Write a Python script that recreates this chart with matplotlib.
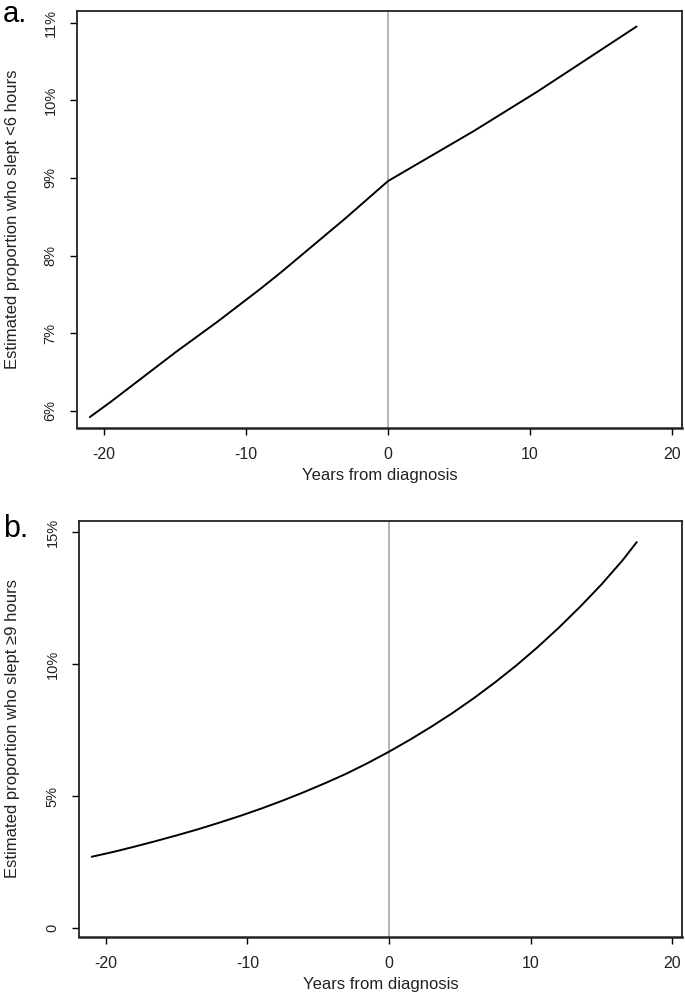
import matplotlib
matplotlib.use("Agg")
import matplotlib.pyplot as plt

plt.rcParams['font.family'] = ['Liberation Sans', 'DejaVu Sans']

# years from diagnosis (shared by both panels)
years = [-21, -19.5, -18, -16.5, -15, -13.5, -12, -10.5, -9, -7.5, -6, -4.5, -3, -1.5,
         0, 1.5, 3, 4.5, 6, 7.5, 9, 10.5, 12, 13.5, 15, 16.5, 17.5]

# panel a: estimated % who slept <6 hours
short_sleep = [5.92, 6.12, 6.33, 6.54, 6.75, 6.95, 7.15, 7.36, 7.57, 7.79, 8.02, 8.25, 8.48, 8.72,
               8.96, 9.12, 9.28, 9.44, 9.60, 9.77, 9.94, 10.11, 10.29, 10.47, 10.65, 10.83, 10.95]

# panel b: estimated % who slept >=9 hours
long_sleep = [2.70, 2.88, 3.08, 3.29, 3.51, 3.74, 3.99, 4.25, 4.53, 4.83, 5.15, 5.49, 5.85, 6.25,
              6.68, 7.14, 7.63, 8.15, 8.71, 9.31, 9.95, 10.64, 11.38, 12.17, 13.01, 13.93, 14.62]

x_ticks = [-20, -10, 0, 10, 20]
a_ticks = [6, 7, 8, 9, 10, 11]
a_labels = ['6%', '7%', '8%', '9%', '10%', '11%']
b_ticks = [0, 5, 10, 15]
b_labels = ['0', '5%', '10%', '15%']

W, H = 685, 997
fig = plt.figure(figsize=(W / 100, H / 100), dpi=100)


def make_axes(left, top, right, bottom):
    return fig.add_axes([left / W, 1 - bottom / H, (right - left) / W, (bottom - top) / H])


def style(ax, left, right, y, yticks, ylabels, ylim, ylabel):
    ax.plot(years, y, color='black', lw=1.4, solid_joinstyle='round', solid_capstyle='round')
    ax.axvline(0, color='#b4b4b4', lw=1.4, zorder=0)
    ax.set_xlim(-21.9, 20.7)
    ax.set_ylim(*ylim)
    ax.set_xticks(x_ticks)
    ax.set_xticklabels([str(t) for t in x_ticks])
    ax.set_yticks(yticks)
    ax.set_yticklabels(ylabels, rotation=90, va='center')
    ax.tick_params(axis='both', direction='out', length=5, width=1,
                   colors='black', labelcolor='#222222')
    ax.tick_params(axis='x', pad=9, labelsize=11.5)
    ax.tick_params(axis='y', pad=9, labelsize=10.5)
    for s in ax.spines.values():
        s.set_linewidth(1.3)
        s.set_color('#222222')
    ax.spines['bottom'].set_linewidth(1.8)
    ax.set_xlabel('Years from diagnosis', fontsize=12, color='#222222', labelpad=4)
    ax.set_ylabel(ylabel, fontsize=12, color='#222222')
    # the label's lower edge sits about 20 px from the figure's left side
    ax.yaxis.set_label_coords((20 - left) / (right - left), 0.5)


ax_a = make_axes(77, 11, 682, 428)
style(ax_a, 77, 682, short_sleep, a_ticks, a_labels, (5.78, 11.15),
      'Estimated proportion who slept <6 hours')

ax_b = make_axes(79, 521, 682, 937)
style(ax_b, 79, 682, long_sleep, b_ticks, b_labels, (-0.34, 15.42),
      'Estimated proportion who slept \u22659 hours')

fig.text(3 / W, 1 - 22 / H, 'a.', fontsize=21, color='black', ha='left', va='baseline')
fig.text(3 / W, 1 - 537 / H, 'b.', fontsize=22, color='black', ha='left', va='baseline')

fig.savefig('out.png', dpi=100, facecolor='white')
